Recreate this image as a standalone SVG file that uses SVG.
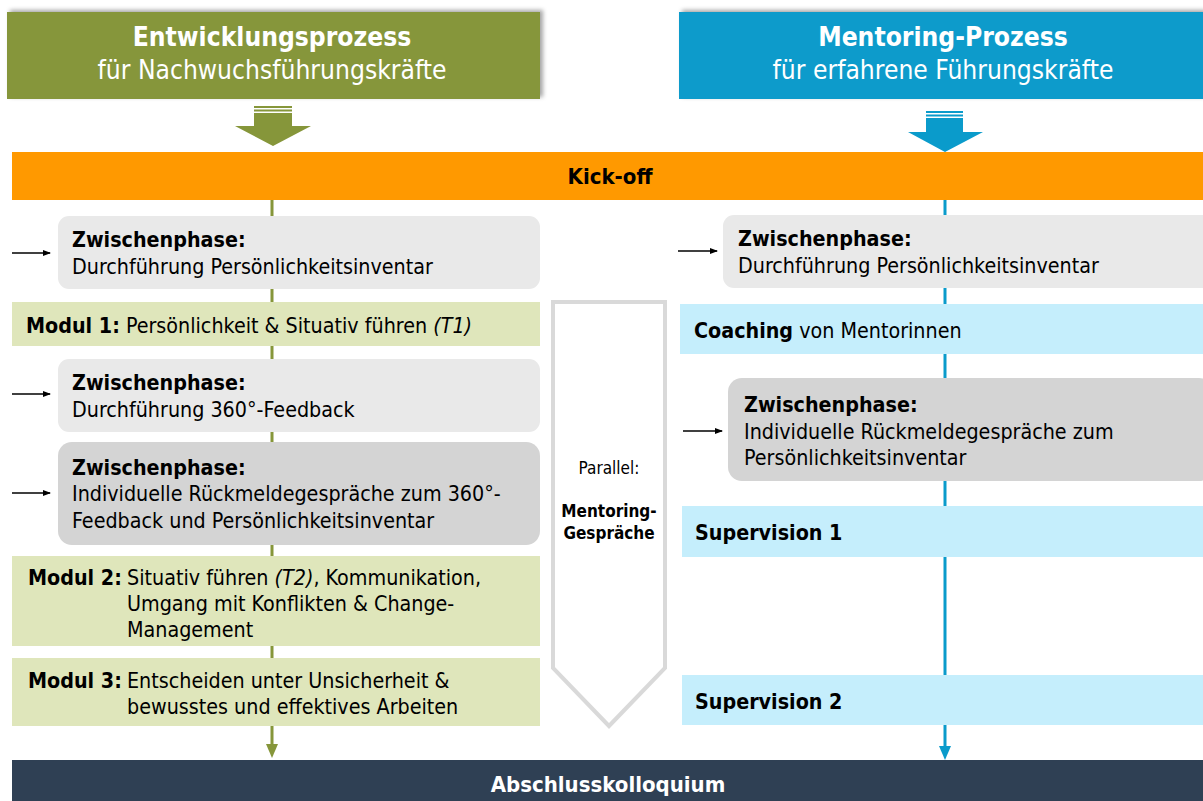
<svg xmlns="http://www.w3.org/2000/svg" width="1203" height="801" viewBox="0 0 1203 801">
<defs>
<style>
text{font-family:"DejaVu Sans Condensed","DejaVu Sans",sans-serif;font-stretch:condensed;fill:#000}
.t{font-size:21.3px}
.b{font-weight:bold}
.w{fill:#fff}
.h{font-size:26.2px}
.zw{fill:#E9E9E9}
.zd{fill:#D4D4D4}
.gm{fill:#DFE6BB}
.bm{fill:#C5EEFC}
</style>
<marker id="ah" markerWidth="8" markerHeight="8" refX="7" refY="4" orient="auto" markerUnits="userSpaceOnUse"><path d="M0,1 L8,4 L0,7 z" fill="#000"/></marker>
<filter id="sh" x="-5%" y="-10%" width="115%" height="130%"><feDropShadow dx="3" dy="-2" stdDeviation="2" flood-color="#000" flood-opacity="0.35"/></filter>
</defs>
<g id="connectors">
<line x1="272" y1="200" x2="272" y2="746" stroke="#86963A" stroke-width="3"/>
<path d="M266,744 L278,744 L272,758 z" fill="#86963A"/>
<line x1="945" y1="200" x2="945" y2="748" stroke="#0A9BCB" stroke-width="3"/>
<path d="M939,746 L951,746 L945,760 z" fill="#0A9BCB"/>
<line x1="12" y1="253" x2="50" y2="253" stroke="#000" stroke-width="1.5" marker-end="url(#ah)"/>
<line x1="12" y1="394" x2="50" y2="394" stroke="#000" stroke-width="1.5" marker-end="url(#ah)"/>
<line x1="12" y1="493" x2="50" y2="493" stroke="#000" stroke-width="1.5" marker-end="url(#ah)"/>
<line x1="678" y1="251" x2="717" y2="251" stroke="#000" stroke-width="1.5" marker-end="url(#ah)"/>
<line x1="683" y1="431" x2="722" y2="431" stroke="#000" stroke-width="1.5" marker-end="url(#ah)"/>
</g>
<g id="header-left">
<rect x="7" y="12" width="533" height="87" fill="#86963A" filter="url(#sh)"/>
<text x="272" y="46" text-anchor="middle" class="h b w">Entwicklungsprozess</text>
<text x="272" y="79" text-anchor="middle" class="h w">für Nachwuchsführungskräfte</text>
</g>
<g id="header-right">
<rect x="679" y="12" width="524" height="87" fill="#0A9BCB" filter="url(#sh)"/>
<text x="943" y="46" text-anchor="middle" class="h b w">Mentoring-Prozess</text>
<text x="943" y="79" text-anchor="middle" class="h w">für erfahrene Führungskräfte</text>
</g>
<g id="arrow-left">
<rect x="254" y="106" width="38" height="2" fill="#86963A"/>
<rect x="254" y="109.5" width="38" height="2" fill="#86963A"/>
<path d="M254,113 L292,113 L292,126 L311,126 L273,146 L235,126 L254,126 z" fill="#86963A"/>
</g>
<g id="arrow-right">
<rect x="926" y="111" width="37" height="2" fill="#0A9BCB"/>
<rect x="926" y="114.5" width="37" height="2" fill="#0A9BCB"/>
<path d="M926,118 L963,118 L963,132 L983,132 L945,152 L908,132 L926,132 z" fill="#0A9BCB"/>
</g>
<g id="kickoff">
<rect x="12" y="152" width="1191" height="48" fill="#FF9900"/>
<text x="610" y="184" text-anchor="middle" class="b" font-size="22px">Kick-off</text>
</g>
<g id="zw-l1">
<rect x="58" y="216" width="482" height="73" rx="11" class="zw"/>
<text x="72" y="247" class="t b">Zwischenphase:</text>
<text x="72" y="274" class="t">Durchführung Persönlichkeitsinventar</text>
</g>
<g id="modul1">
<rect x="12" y="302" width="528" height="44" class="gm"/>
<text x="26" y="333" class="t"><tspan class="b">Modul 1:</tspan> Persönlichkeit &amp; Situativ führen <tspan font-style="italic">(T1)</tspan></text>
</g>
<g id="zw-l2">
<rect x="58" y="359" width="482" height="73" rx="11" class="zw"/>
<text x="72" y="390" class="t b">Zwischenphase:</text>
<text x="72" y="417" class="t">Durchführung 360°-Feedback</text>
</g>
<g id="zw-l3">
<rect x="58" y="442" width="482" height="103" rx="14" class="zd"/>
<text x="72" y="475" class="t b">Zwischenphase:</text>
<text x="72" y="501" class="t">Individuelle Rückmeldegespräche zum 360°-</text>
<text x="72" y="528" class="t">Feedback und Persönlichkeitsinventar</text>
</g>
<g id="modul2">
<rect x="12" y="556" width="528" height="90" class="gm"/>
<text x="28" y="585" class="t b">Modul 2:</text>
<text x="127" y="585" class="t">Situativ führen <tspan font-style="italic">(T2)</tspan>, Kommunikation,</text>
<text x="127" y="611" class="t">Umgang mit Konflikten &amp; Change-</text>
<text x="127" y="637" class="t">Management</text>
</g>
<g id="modul3">
<rect x="12" y="658" width="528" height="68" class="gm"/>
<text x="28" y="688" class="t b">Modul 3:</text>
<text x="127" y="688" class="t">Entscheiden unter Unsicherheit &amp;</text>
<text x="127" y="714" class="t">bewusstes und effektives Arbeiten</text>
</g>
<g id="parallel">
<path d="M553,302 L665,302 L665,668 L609,726 L553,668 z" fill="#fff" stroke="#D9D9D9" stroke-width="4"/>
<text x="609" y="474" text-anchor="middle" font-size="17px">Parallel:</text>
<text x="609" y="517" text-anchor="middle" font-size="17px" class="b">Mentoring-</text>
<text x="609" y="539" text-anchor="middle" font-size="17px" class="b">Gespräche</text>
</g>
<g id="zw-r1">
<rect x="723" y="215" width="490" height="73" rx="11" class="zw"/>
<text x="738" y="246" class="t b">Zwischenphase:</text>
<text x="738" y="273" class="t">Durchführung Persönlichkeitsinventar</text>
</g>
<g id="coaching">
<rect x="680" y="304" width="523" height="50" class="bm"/>
<text x="694" y="338" class="t"><tspan class="b">Coaching</tspan> von Mentorinnen</text>
</g>
<g id="zw-r2">
<rect x="728" y="378" width="485" height="103" rx="14" class="zd"/>
<text x="744" y="412" class="t b">Zwischenphase:</text>
<text x="744" y="439" class="t">Individuelle Rückmeldegespräche zum</text>
<text x="744" y="465" class="t">Persönlichkeitsinventar</text>
</g>
<g id="supervision1">
<rect x="682" y="506" width="521" height="51" class="bm"/>
<text x="695" y="540" class="t b">Supervision 1</text>
</g>
<g id="supervision2">
<rect x="682" y="675" width="521" height="50" class="bm"/>
<text x="695" y="709" class="t b">Supervision 2</text>
</g>
<g id="abschluss">
<rect x="12" y="760" width="1191" height="41" fill="#2F4054"/>
<text x="608" y="792" text-anchor="middle" class="b w" font-size="22px">Abschlusskolloquium</text>
</g>
</svg>
